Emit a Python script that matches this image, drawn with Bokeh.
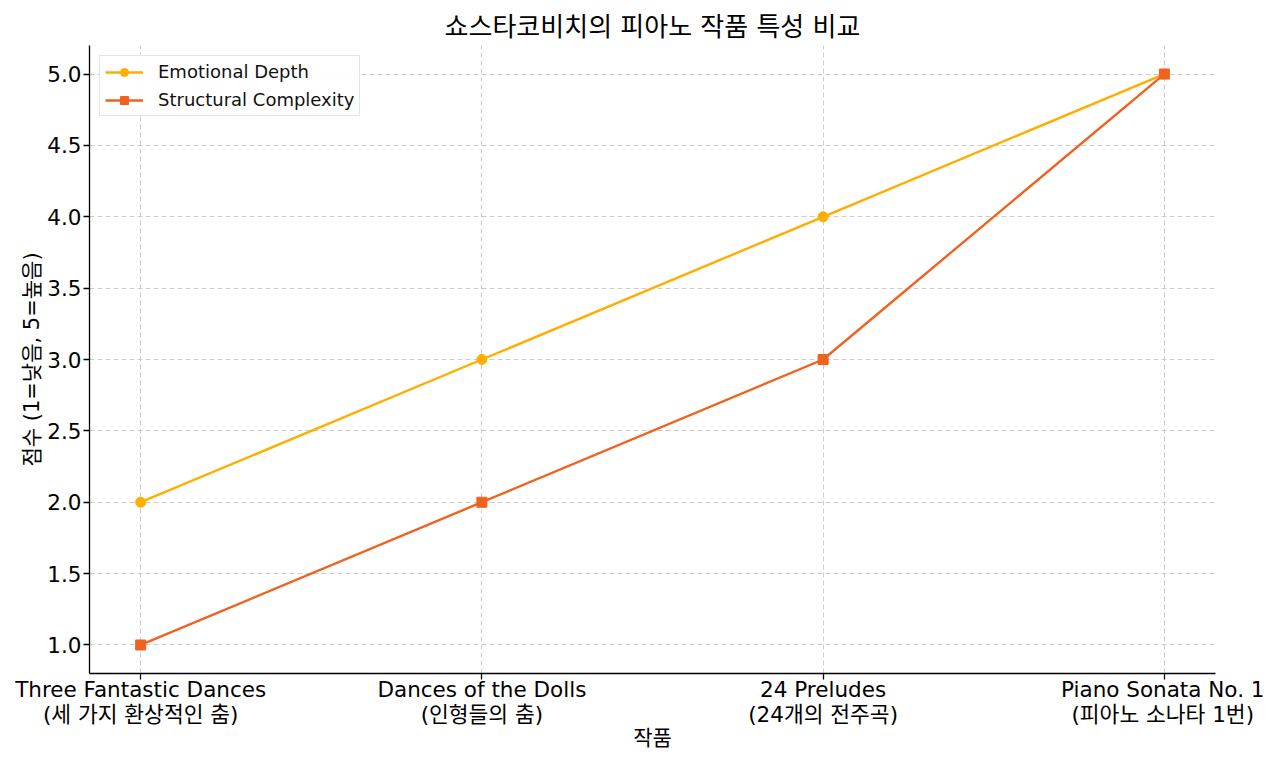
from bokeh.plotting import figure
from bokeh.models import FixedTicker, SingleIntervalTicker, NumeralTickFormatter, Range1d, Legend, LegendItem
from bokeh.embed import file_html
from bokeh.resources import INLINE

title_text = "쇼스타코비치의 피아노 작품 특성 비교"
x_label = "작품"
y_label = "점수 (1=낮음, 5=높음)"
works = [
    "Three Fantastic Dances\n(세 가지 환상적인 춤)",
    "Dances of the Dolls\n(인형들의 춤)",
    "24 Preludes\n(24개의 전주곡)",
    "Piano Sonata No. 1\n(피아노 소나타 1번)",
]
emotional_depth = [2, 3, 4, 5]
structural_complexity = [1, 2, 3, 5]
series_names = ["Emotional Depth", "Structural Complexity"]
colors = ["#FFAE00", "#F0621E"]

FONT = "'DejaVu Sans', 'Noto Sans CJK KR'"
xs = list(range(len(works)))

p = figure(width=1264, height=753, output_backend="svg", toolbar_location=None,
           x_range=Range1d(-0.15, len(works) - 1 + 0.15), y_range=Range1d(0.8, 5.2),
           min_border_left=89, min_border_right=49, min_border_top=45, min_border_bottom=80)
p.outline_line_color = None
p.background_fill_color = "white"
p.border_fill_color = "white"

p.title.text = title_text
p.title.align = "center"
p.title.text_font = FONT
p.title.text_font_size = "26px"
p.title.text_font_style = "normal"
p.title.text_color = "#000000"
p.title.offset = 0
p.title.standoff = 8

r1l = p.line(xs, emotional_depth, line_color=colors[0], line_width=2.4)
r1m = p.scatter(xs, emotional_depth, marker="circle", size=10, fill_color=colors[0], line_color=colors[0])
r2l = p.line(xs, structural_complexity, line_color=colors[1], line_width=2.4)
r2m = p.scatter(xs, structural_complexity, marker="square", size=10, fill_color=colors[1], line_color=colors[1])

legend = Legend(items=[LegendItem(label=series_names[0], renderers=[r1l, r1m]),
                       LegendItem(label=series_names[1], renderers=[r2l, r2m])],
                location="top_left")
legend.label_text_font = FONT
legend.label_text_font_size = "18px"
legend.label_text_color = "#111111"
legend.glyph_width = 38
legend.glyph_height = 20
legend.label_height = 20
legend.label_standoff = 15
legend.spacing = 7
legend.padding = 5
legend.margin = 10
legend.border_line_color = "#cccccc"
legend.border_line_width = 1
legend.background_fill_alpha = 0.9
p.add_layout(legend)

xa = p.xaxis[0]
xa.ticker = FixedTicker(ticks=xs)
xa.major_label_overrides = {i: w for i, w in enumerate(works)}
xa.axis_label = x_label
ya = p.yaxis[0]
ya.ticker = SingleIntervalTicker(interval=0.5)
ya.formatter = NumeralTickFormatter(format="0.0")
ya.axis_label = y_label

for ax in (xa, ya):
    ax.axis_line_color = "black"
    ax.axis_line_width = 1.3
    ax.major_tick_line_color = "black"
    ax.major_tick_line_width = 1.3
    ax.major_tick_out = 6
    ax.major_tick_in = 0
    ax.minor_tick_line_color = None
    ax.major_label_text_font = FONT
    ax.major_label_text_font_size = "21.5px"
    ax.major_label_text_color = "#000000"
    ax.axis_label_text_font = FONT
    ax.axis_label_text_font_size = "21px"
    ax.axis_label_text_font_style = "normal"
    ax.axis_label_text_color = "#000000"
    ax.major_label_standoff = 2
    ax.axis_label_standoff = 0
xa.major_label_standoff = -3
xa.major_label_text_line_height = 1.0
xa.axis_label_text_line_height = 1.0
xa.axis_label_standoff = -4

for g in (p.xgrid[0], p.ygrid[0]):
    g.grid_line_color = "#cccccc"
    g.grid_line_dash = "5 3"
    g.grid_line_width = 1
p.xgrid[0].ticker = xa.ticker

open("out.html", "w").write(file_html(p, INLINE))
